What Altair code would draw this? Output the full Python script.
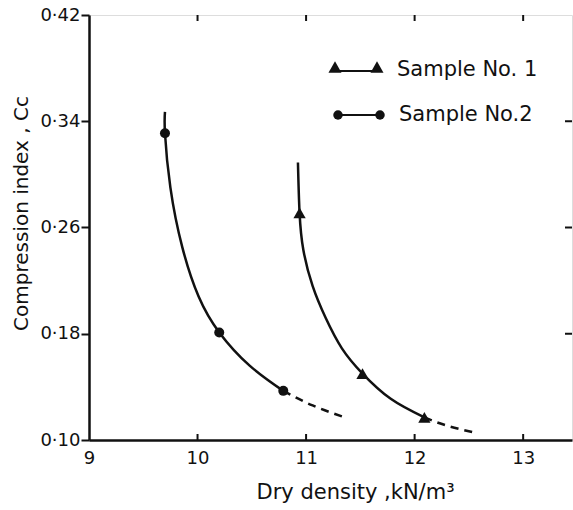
import altair as alt
import pandas as pd

FONT = "DejaVu Sans"

series = ["Sample No. 1", "Sample No.2"]

# Measured points: dry density (kN/m3) vs compression index Cc
s1_density = [10.94, 11.52, 12.09]
s1_cc = [0.271, 0.150, 0.117]
s2_density = [9.70, 10.20, 10.79]
s2_cc = [0.331, 0.181, 0.137]

# Hand-drawn trend curves through the measurements (solid part)
s1_curve_x = [10.925, 10.94, 10.975, 11.06, 11.18, 11.33, 11.52, 11.78, 12.09]
s1_curve_y = [0.309, 0.271, 0.243, 0.216, 0.192, 0.169, 0.150, 0.131, 0.117]
s2_curve_x = [9.70, 9.70, 9.75, 9.86, 10.01, 10.20, 10.48, 10.79]
s2_curve_y = [0.347, 0.331, 0.290, 0.245, 0.208, 0.181, 0.156, 0.137]

# Extrapolated (dashed) tails
s1_tail_x = [12.09, 12.29, 12.53]
s1_tail_y = [0.117, 0.111, 0.106]
s2_tail_x = [10.79, 11.06, 11.36]
s2_tail_y = [0.137, 0.126, 0.117]

x_ticks = [9, 10, 11, 12, 13]
y_ticks = [0.10, 0.18, 0.26, 0.34, 0.42]
top_ticks = [10, 11, 12, 13]
right_ticks = [0.18, 0.26, 0.34]

W, H = 483, 425


def curve_frame(xs, ys, name):
    return pd.DataFrame({"x": xs, "y": ys, "order": range(len(xs)), "series": name})


solid = pd.concat([curve_frame(s1_curve_x, s1_curve_y, series[0]),
                   curve_frame(s2_curve_x, s2_curve_y, series[1])])
dashed = pd.concat([curve_frame(s1_tail_x, s1_tail_y, series[0]),
                    curve_frame(s2_tail_x, s2_tail_y, series[1])])
pts1 = pd.DataFrame({"x": s1_density, "y": s1_cc})
pts2 = pd.DataFrame({"x": s2_density, "y": s2_cc})

xs = alt.Scale(domain=[9, 13.45], nice=False, zero=False)
ys = alt.Scale(domain=[0.10, 0.42], nice=False, zero=False)

x_enc = alt.X("x:Q", scale=xs, axis=alt.Axis(
    values=x_ticks, title="Dry density ,kN/m³", grid=False,
    labelExpr="format(datum.value, 'd')",
    tickSize=0, labelPadding=9, labelFontSize=18, labelFont=FONT,
    titleFont=FONT, titleFontSize=21, titleFontWeight="normal",
    titleX=266, titleY=52, titleAlign="center", titleBaseline="middle",
    titleColor="#111",
    domainColor="#111", domainWidth=2.5, labelColor="#111", labelFlush=False))
y_enc = alt.Y("y:Q", scale=ys, axis=alt.Axis(
    values=y_ticks, title="Compression index , Cc", grid=False,
    tickSize=8, tickWidth=2, tickColor="#111", labelPadding=1,
    labelExpr="replace(format(datum.value, '.2f'), '.', '·')",
    labelFontSize=18, labelFont=FONT, labelColor="#111",
    titleFont=FONT, titleFontSize=20, titleFontWeight="normal",
    titleX=-68, titleY=198, titleAngle=270, titleAlign="center",
    titleBaseline="middle", titleColor="#111",
    domainColor="#111", domainWidth=2.5, labelFlush=False))

solid_lines = alt.Chart(solid).mark_line(
    color="#111", strokeWidth=2.5, interpolate="natural").encode(
    x=x_enc, y=y_enc, detail="series:N", order="order:Q")

dashed_lines = alt.Chart(dashed).mark_line(
    color="#111", strokeWidth=2.5, strokeDash=[8, 6], interpolate="natural").encode(
    x="x:Q", y="y:Q", detail="series:N", order="order:Q")

tri = alt.Chart(pts1).mark_point(shape="triangle-up", filled=True, color="#111",
                                 size=150, opacity=1).encode(x="x:Q", y="y:Q")
dots = alt.Chart(pts2).mark_point(shape="circle", filled=True, color="#111",
                                  size=100, opacity=1).encode(x="x:Q", y="y:Q")

# Inward ticks on the top and bottom edges, and on the right edge
top_df = pd.DataFrame({"x": top_ticks})
tick_top = alt.Chart(top_df).mark_rule(color="#111", strokeWidth=2).encode(
    x="x:Q", y=alt.value(0), y2=alt.value(6))
tick_bottom = alt.Chart(top_df).mark_rule(color="#111", strokeWidth=2).encode(
    x="x:Q", y=alt.value(H), y2=alt.value(H - 6))
right_df = pd.DataFrame({"y": right_ticks})
tick_right = alt.Chart(right_df).mark_rule(color="#111", strokeWidth=2).encode(
    y="y:Q", x=alt.value(W), x2=alt.value(W - 7))

# Legend drawn inside the plot area
leg1 = pd.DataFrame({"label": [series[0]]})
leg2 = pd.DataFrame({"label": [series[1]]})
leg_line1 = alt.Chart(leg1).mark_rule(color="#111", strokeWidth=2).encode(
    x=alt.value(246), x2=alt.value(288), y=alt.value(56))
leg_sym1 = alt.Chart(pd.DataFrame({"px": [246, 288]})).mark_point(
    shape="triangle-up", filled=True, color="#111", size=170, opacity=1).encode(
    x=alt.X("px:Q", scale=None), y=alt.value(52))
leg_txt1 = alt.Chart(leg1).mark_text(align="left", baseline="middle", font=FONT,
                                     fontSize=21, color="#111").encode(
    x=alt.value(308), y=alt.value(55), text="label:N")
leg_line2 = alt.Chart(leg2).mark_rule(color="#111", strokeWidth=2).encode(
    x=alt.value(249), x2=alt.value(291), y=alt.value(100))
leg_sym2 = alt.Chart(pd.DataFrame({"px": [249, 291]})).mark_point(
    shape="circle", filled=True, color="#111", size=90, opacity=1).encode(
    x=alt.X("px:Q", scale=None), y=alt.value(100))
leg_txt2 = alt.Chart(leg2).mark_text(align="left", baseline="middle", font=FONT,
                                     fontSize=21, color="#111").encode(
    x=alt.value(310), y=alt.value(100), text="label:N")

chart = alt.layer(
    solid_lines, dashed_lines, tri, dots, tick_top, tick_bottom, tick_right,
    leg_line1, leg_sym1, leg_txt1, leg_line2, leg_sym2, leg_txt2,
).properties(
    width=W, height=H, autosize="none",
    padding={"left": 89, "top": 15, "right": 1, "bottom": 70},
).configure_view(
    stroke="#111", strokeWidth=1.8
).configure(background="white")

chart.save("out.html", embed_options={"renderer": "svg", "actions": False})
